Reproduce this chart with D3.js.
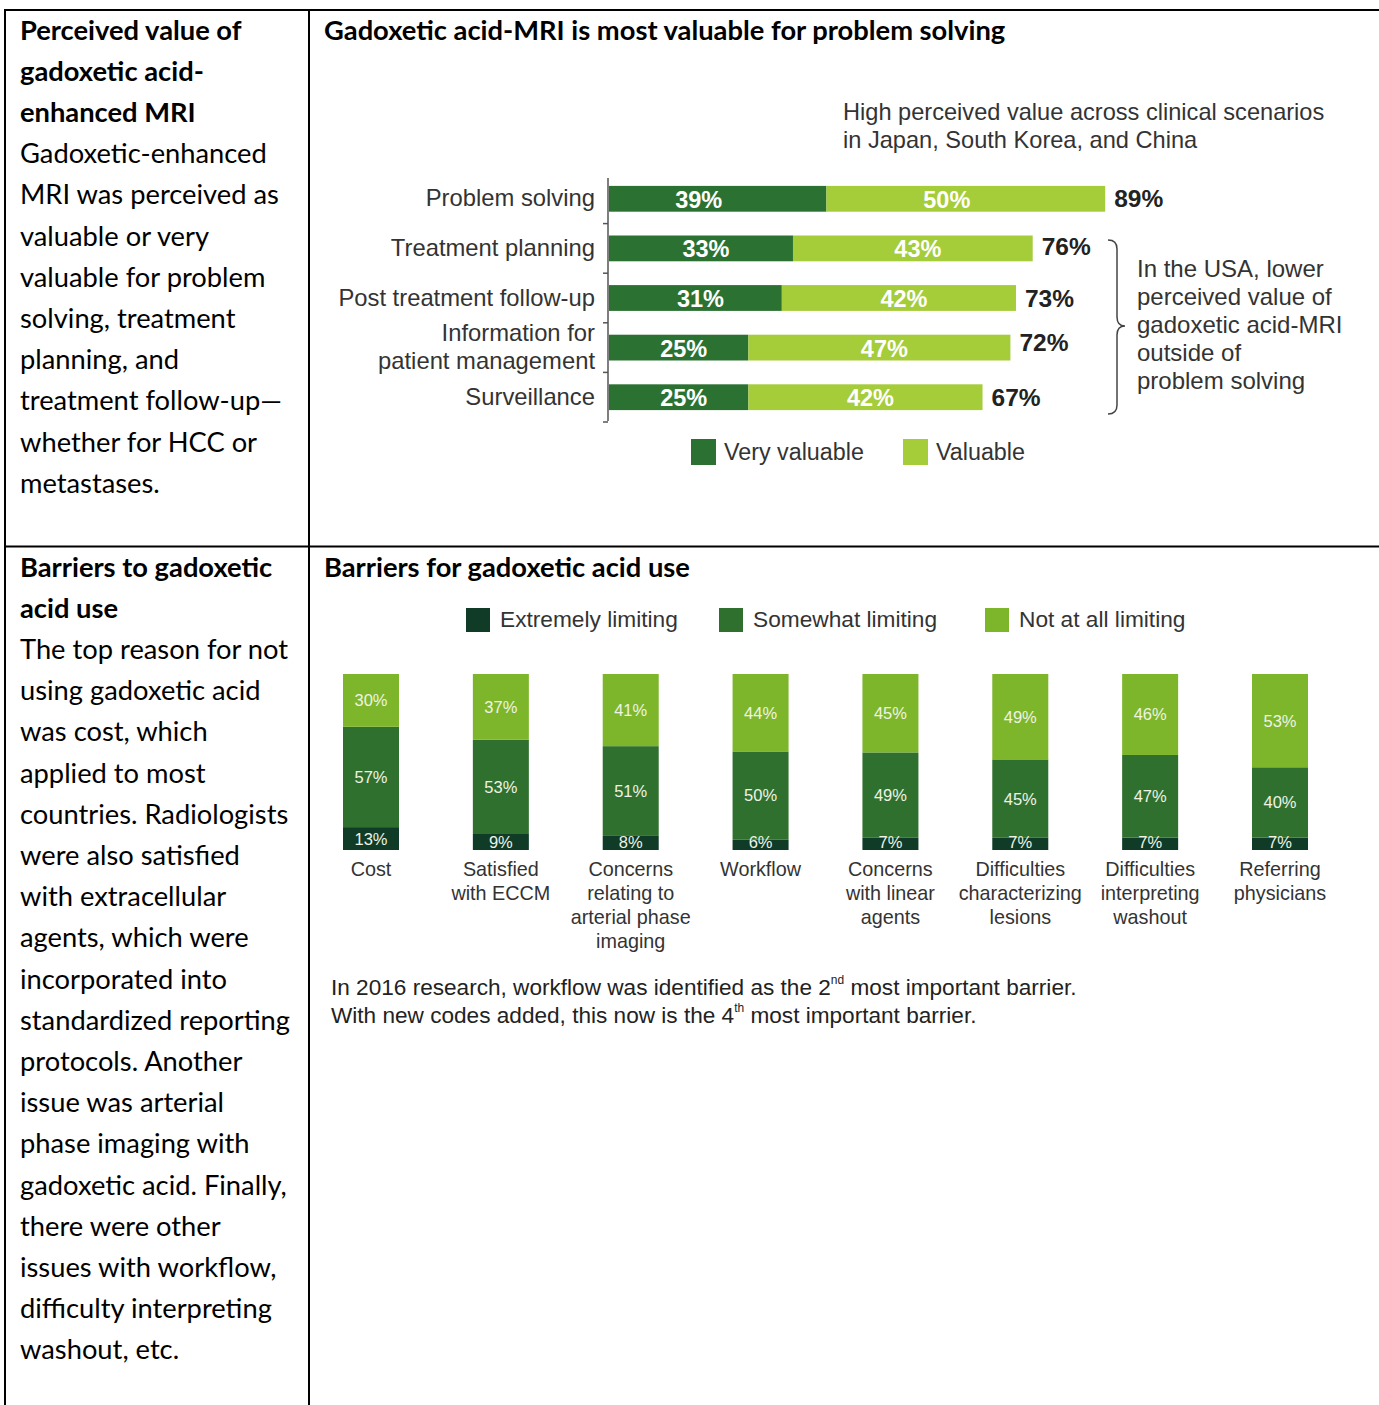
<!DOCTYPE html>
<html>
<head>
<meta charset="utf-8">
<script src="https://cdn.jsdelivr.net/npm/d3@7"></script>
<style>
  html, body { margin: 0; padding: 0; background: #fff; }
  svg { display: block; }
</style>
</head>
<body>
<div id="chart"></div>
<script>
// ---------- DATA ----------
const valueCategories = ["Problem solving", "Treatment planning", "Post treatment follow-up", "Information for\npatient management", "Surveillance"];
const veryValuable = [39, 33, 31, 25, 25];
const valuable = [50, 43, 42, 47, 42];
const valueTotals = [89, 76, 73, 72, 67];

const barrierCategories = ["Cost", "Satisfied\nwith ECCM", "Concerns\nrelating to\narterial phase\nimaging", "Workflow", "Concerns\nwith linear\nagents", "Difficulties\ncharacterizing\nlesions", "Difficulties\ninterpreting\nwashout", "Referring\nphysicians"];
const extremelyLimiting = [13, 9, 8, 6, 7, 7, 7, 7];
const somewhatLimiting = [57, 53, 51, 50, 49, 45, 47, 40];
const notAtAllLimiting = [30, 37, 41, 44, 45, 49, 46, 53];

const topLegend = ["Very valuable", "Valuable"];
const bottomLegend = ["Extremely limiting", "Somewhat limiting", "Not at all limiting"];

const leftTopBold = ["Perceived value of", "gadoxetic acid-", "enhanced MRI"];
const leftTopText = ["Gadoxetic-enhanced", "MRI was perceived as", "valuable or very", "valuable for problem", "solving, treatment", "planning, and", "treatment follow-up\u2014", "whether for HCC or", "metastases."];
const leftBottomBold = ["Barriers to gadoxetic", "acid use"];
const leftBottomText = ["The top reason for not", "using gadoxetic acid", "was cost, which", "applied to most", "countries. Radiologists", "were also satisfied", "with extracellular", "agents, which were", "incorporated into", "standardized reporting", "protocols. Another", "issue was arterial", "phase imaging with", "gadoxetic acid. Finally,", "there were other", "issues with workflow,", "difficulty interpreting", "washout, etc."];

// ---------- SETUP ----------
const W = 1379, H = 1405;
const svg = d3.select("#chart").append("svg").attr("width", W).attr("height", H);
const docFont = "Lato, 'Open Sans', sans-serif";
const docSize = 27.3;
const chartFont = "'Liberation Sans', Arial, Helvetica, sans-serif";

// ---------- TABLE GRID ----------
const grid = svg.append("g").attr("stroke", "#000").attr("stroke-width", 2);
grid.append("line").attr("x1", 4).attr("x2", W).attr("y1", 10).attr("y2", 10);
grid.append("line").attr("x1", 4).attr("x2", W).attr("y1", 546.5).attr("y2", 546.5);
grid.append("line").attr("x1", 5).attr("x2", 5).attr("y1", 9).attr("y2", H);
grid.append("line").attr("x1", 309).attr("x2", 309).attr("y1", 9).attr("y2", H);

// ---------- LEFT COLUMN TEXT ----------
function leftBlock(boldLines, textLines, y0) {
  const lh = 41.2;
  const g = svg.append("g").attr("font-family", docFont).attr("font-size", docSize).attr("fill", "#000");
  boldLines.concat(textLines).forEach((t, i) => {
    g.append("text").attr("x", 20).attr("y", y0 + i * lh).attr("dominant-baseline", "central")
      .attr("font-weight", i < boldLines.length ? "bold" : "normal").text(t);
  });
}
leftBlock(leftTopBold, leftTopText, 29);
leftBlock(leftBottomBold, leftBottomText, 566);

// ---------- TITLES ----------
svg.append("text").attr("x", 324).attr("y", 29).attr("dominant-baseline", "central")
  .attr("font-family", docFont).attr("font-size", docSize).attr("font-weight", "bold")
  .text("Gadoxetic acid-MRI is most valuable for problem solving");
svg.append("text").attr("x", 324).attr("y", 566).attr("dominant-baseline", "central")
  .attr("font-family", docFont).attr("font-size", docSize).attr("font-weight", "bold")
  .text("Barriers for gadoxetic acid use");

// ---------- TOP CHART ----------
const cDark = "#2b7232", cLight = "#a5cc39", textGrey = "#333";
const topG = svg.append("g").attr("font-family", chartFont);

topG.append("text").attr("x", 843).attr("y", 112).attr("dominant-baseline", "central")
  .attr("font-size", 23.6).attr("fill", textGrey).text("High perceived value across clinical scenarios");
topG.append("text").attr("x", 843).attr("y", 140).attr("dominant-baseline", "central")
  .attr("font-size", 23.6).attr("fill", textGrey).text("in Japan, South Korea, and China");

const xTop = d3.scaleLinear().domain([0, 100]).range([609, 609 + 557.5]);
const yTop = d3.scaleBand().domain(valueCategories).range([173, 423]).paddingInner(0.48).paddingOuter(0.26);

// axis line + ticks at band boundaries
const axisX = 608;
topG.append("line").attr("x1", axisX).attr("x2", axisX).attr("y1", 178).attr("y2", 421)
  .attr("stroke", "#555").attr("stroke-width", 1.5);
valueCategories.forEach((c, i) => {
  const yb = yTop(c) + yTop.bandwidth() + yTop.step() * yTop.paddingInner() / 2;
  topG.append("line").attr("x1", axisX - 5).attr("x2", axisX).attr("y1", yb).attr("y2", yb)
    .attr("stroke", "#555").attr("stroke-width", 1.5);
});

valueCategories.forEach((c, i) => {
  const y = yTop(c), h = yTop.bandwidth(), cy = y + h / 2;
  const lblShift = i === 0 ? -19 : 5;
  topG.append("rect").attr("x", xTop(0)).attr("y", y).attr("width", xTop(veryValuable[i]) - xTop(0)).attr("height", h).attr("fill", cDark);
  topG.append("rect").attr("x", xTop(veryValuable[i])).attr("y", y)
    .attr("width", xTop(veryValuable[i] + valuable[i]) - xTop(veryValuable[i])).attr("height", h).attr("fill", cLight);
  topG.append("text").attr("x", (xTop(0) + xTop(veryValuable[i])) / 2 + lblShift).attr("y", cy + 1)
    .attr("text-anchor", "middle").attr("dominant-baseline", "central")
    .attr("font-size", 23.5).attr("font-weight", "bold").attr("fill", "#fff").text(veryValuable[i] + "%");
  topG.append("text").attr("x", (xTop(veryValuable[i]) + xTop(veryValuable[i] + valuable[i])) / 2 + lblShift).attr("y", cy + 1)
    .attr("text-anchor", "middle").attr("dominant-baseline", "central")
    .attr("font-size", 23.5).attr("font-weight", "bold").attr("fill", "#fff").text(valuable[i] + "%");
  topG.append("text").attr("x", xTop(valueTotals[i]) + 9).attr("y", cy - (i === 3 ? 5 : (i === 1 ? 2 : 0)))
    .attr("dominant-baseline", "central")
    .attr("font-size", 24.5).attr("font-weight", "bold").attr("fill", "#222").text(valueTotals[i] + "%");
  // category label
  const lines = c.split("\n");
  lines.forEach((ln, j) => {
    const off = (j - (lines.length - 1) / 2) * 28;
    topG.append("text").attr("x", 595).attr("y", cy + off - 1).attr("text-anchor", "end")
      .attr("dominant-baseline", "central").attr("font-size", 23.8).attr("fill", textGrey).text(ln);
  });
});

// brace
const bx = 1108, bTop = 240, bBot = 414, bMid = 326;
const bracePath = `M${bx},${bTop} Q${bx + 9},${bTop} ${bx + 9},${bTop + 9} L${bx + 9},${bMid - 9} Q${bx + 9},${bMid} ${bx + 17},${bMid} Q${bx + 9},${bMid} ${bx + 9},${bMid + 9} L${bx + 9},${bBot - 9} Q${bx + 9},${bBot} ${bx},${bBot}`;
topG.append("path").attr("d", bracePath).attr("fill", "none").attr("stroke", "#444").attr("stroke-width", 1.5);

const noteLines = ["In the USA, lower", "perceived value of", "gadoxetic acid-MRI", "outside of", "problem solving"];
noteLines.forEach((t, i) => {
  topG.append("text").attr("x", 1137).attr("y", 268 + i * 28).attr("dominant-baseline", "central")
    .attr("font-size", 24).attr("fill", textGrey).text(t);
});

// legend top
const topLegColors = [cDark, cLight];
const topLegX = [691, 903];
topLegend.forEach((t, i) => {
  topG.append("rect").attr("x", topLegX[i]).attr("y", 439).attr("width", 25).attr("height", 26).attr("fill", topLegColors[i]);
  topG.append("text").attr("x", topLegX[i] + 33).attr("y", 452).attr("dominant-baseline", "central")
    .attr("font-size", 23.3).attr("fill", textGrey).text(t);
});

// ---------- BOTTOM CHART ----------
const bDark = "#0f3b27", bMidC = "#30702f", bLight = "#7db62a";
const botG = svg.append("g").attr("font-family", chartFont);

const botLegColors = [bDark, bMidC, bLight];
const botLegX = [466, 719, 985];
bottomLegend.forEach((t, i) => {
  botG.append("rect").attr("x", botLegX[i]).attr("y", 608).attr("width", 24).attr("height", 24).attr("fill", botLegColors[i]);
  botG.append("text").attr("x", botLegX[i] + 34).attr("y", 619).attr("dominant-baseline", "central")
    .attr("font-size", 22.7).attr("fill", textGrey).text(t);
});

const xBot = d3.scalePoint().domain(barrierCategories).range([371, 1280]);
const yBot = d3.scaleLinear().domain([0, 100]).range([850, 674]);
const barW = 56;
const rectLayer = botG.append("g"), labelLayer = botG.append("g");

barrierCategories.forEach((c, i) => {
  const tot = extremelyLimiting[i] + somewhatLimiting[i] + notAtAllLimiting[i];
  const segs = [extremelyLimiting[i], somewhatLimiting[i], notAtAllLimiting[i]];
  const cols = [bDark, bMidC, bLight];
  let acc = 0;
  const cx = xBot(c);
  segs.forEach((v, k) => {
    const y0 = yBot(acc / tot * 100), y1 = yBot((acc + v) / tot * 100);
    rectLayer.append("rect").attr("x", cx - barW / 2).attr("y", y1).attr("width", barW).attr("height", y0 - y1).attr("fill", cols[k]);
    let ly = (y0 + y1) / 2;
    if (k === 0) ly = Math.min(ly, y0 - 8);
    labelLayer.append("text").attr("x", cx).attr("y", ly).attr("text-anchor", "middle").attr("dominant-baseline", "central")
      .attr("font-size", 16.5).attr("fill", "#eef3e4").text(v + "%");
    acc += v;
  });
  c.split("\n").forEach((ln, j) => {
    labelLayer.append("text").attr("x", cx).attr("y", 869 + j * 24).attr("text-anchor", "middle").attr("dominant-baseline", "central")
      .attr("font-size", 19.8).attr("fill", textGrey).text(ln);
  });
});

// footnote
const fn1 = botG.append("text").attr("x", 331).attr("y", 987).attr("dominant-baseline", "central")
  .attr("font-size", 22.6).attr("fill", "#222");
fn1.append("tspan").text("In 2016 research, workflow was identified as the 2");
fn1.append("tspan").attr("font-size", 12).attr("dy", -7).text("nd");
fn1.append("tspan").attr("dy", 7).text(" most important barrier.");
const fn2 = botG.append("text").attr("x", 331).attr("y", 1015).attr("dominant-baseline", "central")
  .attr("font-size", 22.6).attr("fill", "#222");
fn2.append("tspan").text("With new codes added, this now is the 4");
fn2.append("tspan").attr("font-size", 12).attr("dy", -7).text("th");
fn2.append("tspan").attr("dy", 7).text(" most important barrier.");
</script>
</body>
</html>
